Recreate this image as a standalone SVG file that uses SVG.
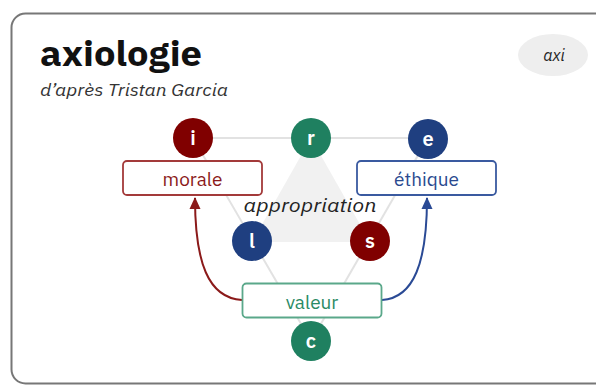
<svg xmlns="http://www.w3.org/2000/svg" width="596" height="385" viewBox="0 0 596 385">
<defs>
<style>
.sans{font-family:"IBM Plex Sans","Open Sans","Liberation Sans",sans-serif}
.title{font-weight:bold;font-size:35px;fill:#111}
.sub{font-style:italic;font-size:16px;fill:#333}
.circ text{font-weight:600;font-size:20px;fill:#fff;text-anchor:middle}
.box rect{fill:#fff;stroke-width:1.8}
.box text{font-size:19px;text-anchor:middle}
.red{fill:#800000}
.green{fill:#1f8060}
.blue{fill:#1f3f80}
.gray{stroke:#e2e2e2;stroke-width:2;fill:none}
</style>
<marker id="ar" viewBox="0 0 12 12" refX="11" refY="6" markerWidth="12" markerHeight="12" markerUnits="userSpaceOnUse" orient="auto"><path d="M0,0.5 L12,6 L0,11.5 z" fill="#8b1a1a"/></marker>
<marker id="ab" viewBox="0 0 12 12" refX="11" refY="6" markerWidth="12" markerHeight="12" markerUnits="userSpaceOnUse" orient="auto"><path d="M0,0.5 L12,6 L0,11.5 z" fill="#2a4a95"/></marker>
</defs>
<rect x="11.5" y="13.5" width="600" height="370" rx="14" fill="#fff" stroke="#777" stroke-width="2"/>
<text class="sans title" x="40" y="66" textLength="162" lengthAdjust="spacingAndGlyphs">axiologie</text>
<text class="sans sub" x="40" y="96" textLength="188" lengthAdjust="spacingAndGlyphs">d’après Tristan Garcia</text>
<g id="tag">
<ellipse cx="553" cy="55" rx="35" ry="21" fill="#eeeeee"/>
<text class="sans" x="554" y="61" font-size="16" font-style="italic" fill="#222" text-anchor="middle">axi</text>
</g>
<g id="background">
<polygon points="311,138 252,242 370,242" fill="#f1f1f1"/>
<line class="gray" x1="193" y1="138" x2="428" y2="138"/>
<line class="gray" x1="193" y1="138" x2="311" y2="341"/>
<line class="gray" x1="428" y1="138" x2="311" y2="341"/>
</g>
<g id="connectors">
<path d="M242,300 C208,298 195,262 195,198" fill="none" stroke="#8b1a1a" stroke-width="2" marker-end="url(#ar)"/>
<path d="M382,300 C414,298 427,262 427,198" fill="none" stroke="#2a4a95" stroke-width="2" marker-end="url(#ab)"/>
</g>
<g id="label-appropriation">
<text class="sans" x="310" y="212" font-size="18" font-style="italic" fill="#222" text-anchor="middle" textLength="133" lengthAdjust="spacingAndGlyphs">appropriation</text>
</g>
<g id="node-i" class="circ sans"><circle cx="193" cy="138" r="20" class="red"/><text x="193" y="145">i</text></g>
<g id="node-r" class="circ sans"><circle cx="311" cy="138" r="20" class="green"/><text x="311" y="145">r</text></g>
<g id="node-e" class="circ sans"><circle cx="428" cy="139" r="20" class="blue"/><text x="428" y="146">e</text></g>
<g id="node-l" class="circ sans"><circle cx="252" cy="241" r="20" class="blue"/><text x="252" y="248">l</text></g>
<g id="node-s" class="circ sans"><circle cx="370" cy="241" r="20" class="red"/><text x="370" y="248">s</text></g>
<g id="node-c" class="circ sans"><circle cx="311" cy="341" r="20" class="green"/><text x="311" y="348">c</text></g>
<g id="node-morale" class="box sans"><rect x="123" y="161" width="139" height="34" rx="4" stroke="#a33a3a"/><text x="192.5" y="186" fill="#8b1a1a">morale</text></g>
<g id="node-ethique" class="box sans"><rect x="357" y="161" width="139" height="34" rx="4" stroke="#3a5aa0"/><text x="426.5" y="186" fill="#2a4a8f">éthique</text></g>
<g id="node-valeur" class="box sans"><rect x="242.5" y="283.5" width="139" height="34" rx="4" stroke="#5aa88a"/><text x="312" y="309" fill="#2a8a65">valeur</text></g>
</svg>
